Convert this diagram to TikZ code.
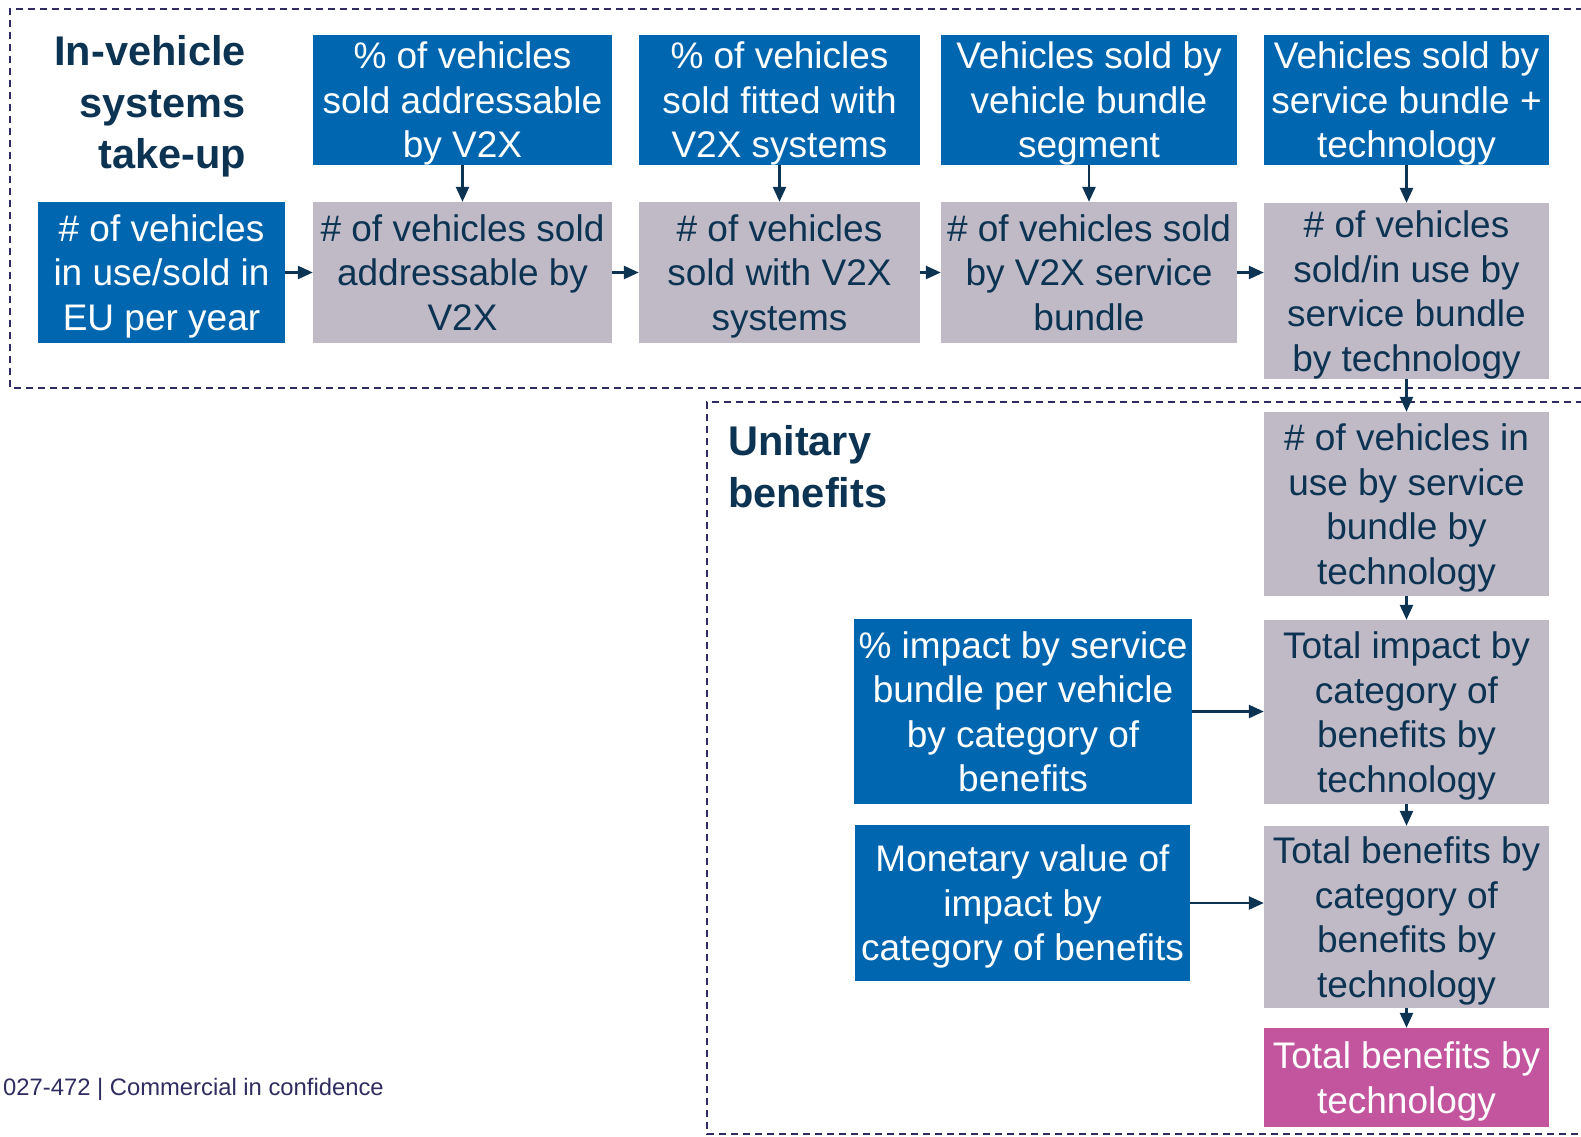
\documentclass[tikz,border=0pt]{standalone}
\usepackage{fontspec}
\setmainfont{Liberation Sans}
\usetikzlibrary{arrows.meta}

\definecolor{boxblue}{HTML}{0066B0}
\definecolor{boxgrey}{HTML}{C0BAC7}
\definecolor{boxpink}{HTML}{C2559E}
\definecolor{navy}{HTML}{0D3353}
\definecolor{framecol}{HTML}{2E2C60}

\tikzset{
    box/.style={inner xsep=0pt, inner ysep=0pt, align=center, text depth=0pt,
        font=\fontsize{37}{44.5}\selectfont},
    bluebox/.style={box, fill=boxblue, text=white},
    greybox/.style={box, fill=boxgrey, text=navy},
    pinkbox/.style={box, fill=boxpink, text=white},
    heading/.style={inner sep=0pt, text=navy, text depth=0pt,
        font=\fontsize{41.5}{51.5}\selectfont\bfseries},
    arr/.style={-{Triangle[length=15pt,width=13pt]}, line width=2.5pt, draw=navy},
    frame/.style={draw=framecol, line width=1.5pt, dash pattern=on 7pt off 5pt}
}

\begin{document}
\begin{tikzpicture}[x=1pt,y=-1pt]

    \useasboundingbox (0,0) rectangle (1581,1136);

    \coordinate (C1)  at (161.5, 272.5);
    \coordinate (C2)  at (462.5, 100);
    \coordinate (C3)  at (779.5, 100);
    \coordinate (C4)  at (1089, 100);
    \coordinate (C5)  at (1406.5, 100);
    \coordinate (C6)  at (462.5, 272.5);
    \coordinate (C7)  at (779.5, 272.5);
    \coordinate (C8)  at (1089, 272.5);
    \coordinate (C9)  at (1406.5, 291);
    \coordinate (C10) at (1406.5, 504);
    \coordinate (C11) at (1406.5, 712);
    \coordinate (C12) at (1406.5, 917);
    \coordinate (C13) at (1406.5, 1077.5);
    \coordinate (C14) at (1023, 711.5);
    \coordinate (C15) at (1022.5, 903);

    % dashed frames
    \draw [frame] (1595,9) -- (10,9) -- (10,388) -- (1595,388);
    \draw [frame] (1595,402) -- (707,402) -- (707,1134) -- (1595,1134);

    \node [heading, anchor=east, align=right] (T1) at (246,102) {In-vehicle\\systems\\take-up};
    \node [heading, anchor=west, align=left] (T2) at (728,466.5) {Unitary\\benefits};

    \node [bluebox, minimum width=247pt, minimum height=141pt] (N1) at (C1) {\# of vehicles\\in use/sold in\\EU per year};
    \node [bluebox, minimum width=299pt, minimum height=130pt] (N2) at (C2) {\% of vehicles\\sold addressable\\by V2X};
    \node [bluebox, minimum width=281pt, minimum height=130pt] (N3) at (C3) {\% of vehicles\\sold fitted with\\V2X systems};
    \node [bluebox, minimum width=296pt, minimum height=130pt] (N4) at (C4) {Vehicles sold by\\vehicle bundle\\segment};
    \node [bluebox, minimum width=285pt, minimum height=130pt] (N5) at (C5) {Vehicles sold by\\service bundle +\\technology};

    \node [greybox, minimum width=299pt, minimum height=141pt] (N6) at (C6) {\# of vehicles sold\\addressable by\\V2X};
    \node [greybox, minimum width=281pt, minimum height=141pt] (N7) at (C7) {\# of vehicles\\sold with V2X\\systems};
    \node [greybox, minimum width=296pt, minimum height=141pt] (N8) at (C8) {\# of vehicles sold\\by V2X service\\bundle};
    \node [greybox, minimum width=285pt, minimum height=176pt] (N9) at (C9) {\# of vehicles\\sold/in use by\\service bundle\\by technology};
    \node [greybox, minimum width=285pt, minimum height=184pt] (N10) at (C10) {\# of vehicles in\\use by service\\bundle by\\technology};
    \node [greybox, minimum width=285pt, minimum height=184pt] (N11) at (C11) {Total impact by\\category of\\benefits by\\technology};
    \node [greybox, minimum width=285pt, minimum height=182pt] (N12) at (C12) {Total benefits by\\category of\\benefits by\\technology};
    \node [pinkbox, minimum width=285pt, minimum height=99pt] (N13) at (C13) {Total benefits by\\technology};

    \node [bluebox, minimum width=338pt, minimum height=185pt] (N14) at (C14) {\% impact by service\\bundle per vehicle\\by category of\\benefits};
    \node [bluebox, minimum width=335pt, minimum height=156pt] (N15) at (C15) {Monetary value of\\impact by\\category of benefits};

    \node [anchor=west, inner sep=0pt, text=framecol, font=\fontsize{23.8}{28}\selectfont] (F1) at (3,1089) {027-472 | Commercial in confidence};

    \draw [arr] (N2) -- (N6);
    \draw [arr] (N3) -- (N7);
    \draw [arr] (N4) -- (N8);
    \draw [arr] (N5) -- (N9);

    \draw [arr] (N1) -- (N6);
    \draw [arr] (N6) -- (N7);
    \draw [arr] (N7) -- (N8);
    \draw [arr] (N8.east) -- (N8.east -| N9.west);

    \draw [arr] (N9)  -- (N10);
    \draw [arr] (N10) -- (N11);
    \draw [arr] (N11) -- (N12);
    \draw [arr] (N12) -- (N13);

    \draw [arr] (N14.east) -- (N14.east -| N11.west);
    \draw [arr] (N15.east) -- (N15.east -| N12.west);

\end{tikzpicture}
\end{document}
